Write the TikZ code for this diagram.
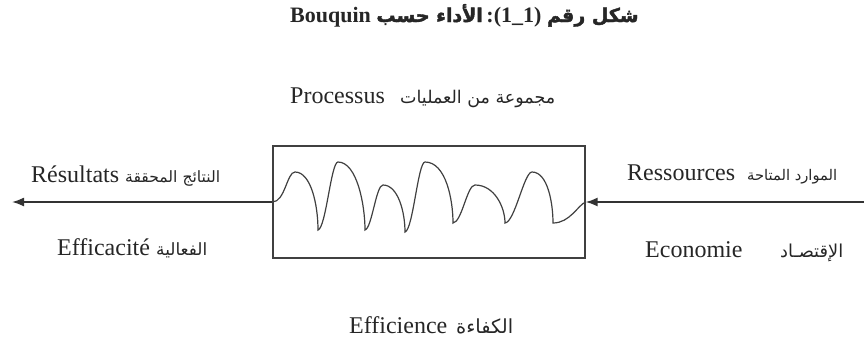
\documentclass[tikz,border=0pt]{standalone}
\usepackage{fontspec}
\usepackage{graphicx}
\setmainfont{Liberation Serif}
\newfontfamily\arabicfont[Script=Arabic]{DejaVu Sans}
\newfontfamily\arabicboldfont[Script=Arabic,FakeBold=2]{DejaVu Sans}
\TeXXeTstate=1
\usetikzlibrary{arrows.meta}
\tikzset{
  lab/.style={inner sep=0pt, anchor=base west, text=black!85, font=\fontsize{24}{28}\selectfont},
  arl/.style={inner sep=0pt, anchor=base west, text=black!85, font=\arabicfont\fontsize{18}{22}\selectfont},
  frame/.style={draw=black!75, line width=1.3pt, inner sep=0pt},
  wave/.style={draw=black!75, line width=1.2pt},
  arr/.style={draw=black!80, line width=1.6pt, -{Latex[length=12pt,width=9pt]}},
}
\begin{document}
\begin{tikzpicture}[x=1pt,y=-1pt]
\useasboundingbox (0,0) rectangle (864,343);
% title
\node[inner sep=0pt, anchor=base west, text=black!85, font=\bfseries\fontsize{22}{26}\selectfont] (title) at (290,22)
  {Bouquin {\arabicboldfont\fontsize{19}{22}\selectfont\beginR الأداء حسب\endR}\,:(1\_1) {\arabicboldfont\fontsize{19}{22}\selectfont\beginR شكل رقم\endR}};
% process label
\node[lab] (proc) at (290,103) {Processus};
\node[arl] (procar) at (400,103) {\resizebox{155pt}{!}{\beginR مجموعة من العمليات\endR}};
% box
\node[frame, minimum width=312pt, minimum height=112pt] (box) at (429,202) {};
% wave
\draw[wave] (box.west)
  .. controls (285,202) and (287,172) .. (295,172)
  .. controls (311,172) and (318,205) .. (318,230)
  .. controls (326,228) and (331,162) .. (338,162)
  .. controls (357,162) and (365,205) .. (365,230)
  .. controls (372,228) and (376,185) .. (383,185)
  .. controls (398,185) and (405,212) .. (405,232)
  .. controls (413,230) and (418,162) .. (425,162)
  .. controls (446,162) and (453,200) .. (453,223)
  .. controls (462,222) and (467,185) .. (475,185)
  .. controls (495,185) and (505,208) .. (505,223)
  .. controls (515,222) and (524,172) .. (532,172)
  .. controls (548,172) and (553,204) .. (553,223)
  .. controls (570,223) and (578,205) .. (box.east);
% arrows
\coordinate (lend) at (12,202);
\coordinate (rend) at (864,202);
\draw[arr] (box.west) -- (lend);
\draw[arr] (rend) -- (box.east);
% left labels
\node[lab] (res) at (31,182) {Résultats};
\node[arl] (resar) at (125,182) {\resizebox{95pt}{!}{\beginR النتائج المحققة\endR}};
\node[lab] (effa) at (57,255) {Efficacité};
\node[arl] (effaar) at (156,255) {\resizebox{51pt}{!}{\beginR الفعالية\endR}};
% right labels
\node[lab] (ress) at (627,180) {Ressources};
\node[arl] (ressar) at (747,180) {\resizebox{90pt}{!}{\beginR الموارد المتاحة\endR}};
\node[lab] (eco) at (645,257) {Economie};
\node[arl] (ecoar) at (780,257) {\resizebox{63pt}{!}{\beginR الإقتصـاد\endR}};
% bottom
\node[lab] (effi) at (349,333) {Efficience};
\node[arl] (effiar) at (456,333) {\resizebox{57pt}{!}{\beginR الكفاءة\endR}};
\end{tikzpicture}
\end{document}
